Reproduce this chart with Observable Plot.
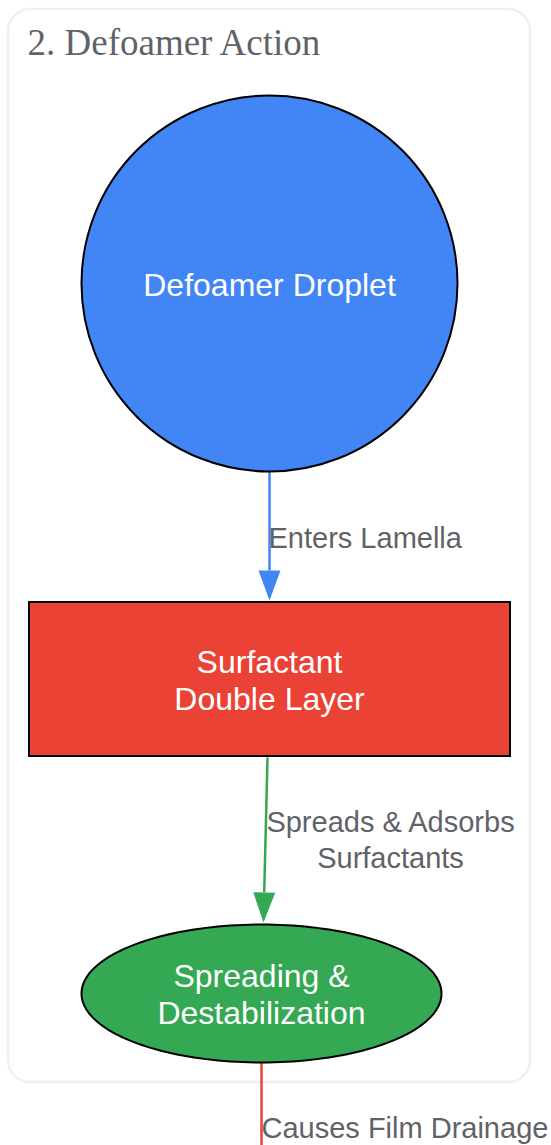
<!DOCTYPE html>
<html>
<head>
<meta charset="utf-8">
<script src="https://cdn.jsdelivr.net/npm/d3@7"></script>
<script src="https://cdn.jsdelivr.net/npm/@observablehq/plot@0.6"></script>
<style>
  html, body { margin: 0; padding: 0; background: white; }
</style>
</head>
<body>
<div id="chart"></div>
<script>
// ---- content ----
const clusterTitle = "2. Defoamer Action";
const nodeLabels = ["Defoamer Droplet", "Surfactant\nDouble Layer", "Spreading &\nDestabilization"];
const nodeColors = ["#4285f4", "#ea4335", "#34a853"];
const edgeLabels = ["Enters Lamella", "Spreads & Adsorbs\nSurfactants", "Causes Film Drainage"];
const edgeColors = ["#4285f4", "#34a853", "#ea4335"];

// ---- layout (pixels) ----
const circleNode = {cx: 269, cy: 283, r: 188};
const rectNode = {x1: 29, x2: 510, y1: 602, y2: 756};
const ellipseNode = {cx: 261, cy: 993, rx: 180, ry: 69};
const cluster = {x1: 8, x2: 530, y1: 9, y2: 1082};
const edgePaths = [
  {x1: 269, y1: 471, x2: 269, y2: 600, head: true},
  {x1: 267, y1: 757, x2: 263, y2: 922, head: true},
  {x1: 261, y1: 1062, x2: 261, y2: 1145, head: false}
];
const edgeLabelPos = [
  {x: 268, y: 536, anchor: "start"},
  {x: 390, y: 838, anchor: "middle"},
  {x: 261, y: 1126, anchor: "start"}
];
const nodeLabelPos = [
  {x: 269, y: 284},
  {x: 269, y: 679},
  {x: 261, y: 993}
];

// ---- derived geometry ----
const headLen = 30, headHalf = 11;
const edges = edgePaths.map((e, i) => {
  const dx = e.x2 - e.x1, dy = e.y2 - e.y1, L = Math.hypot(dx, dy);
  const ux = dx / L, uy = dy / L;
  const bx = e.head ? e.x2 - ux * headLen : e.x2;
  const by = e.head ? e.y2 - uy * headLen : e.y2;
  return {...e, bx, by, ux, uy, color: edgeColors[i], i};
});
const heads = edges.filter(e => e.head).flatMap(e => [
  {x: e.x2, y: e.y2, i: e.i, color: e.color},
  {x: e.bx - e.uy * headHalf, y: e.by + e.ux * headHalf, i: e.i, color: e.color},
  {x: e.bx + e.uy * headHalf, y: e.by - e.ux * headHalf, i: e.i, color: e.color},
  {x: e.x2, y: e.y2, i: e.i, color: e.color}
]);
const ellipsePts = d3.range(0, 361, 2).map(a => ({
  x: ellipseNode.cx + ellipseNode.rx * Math.cos(a * Math.PI / 180),
  y: ellipseNode.cy + ellipseNode.ry * Math.sin(a * Math.PI / 180)
}));

const labelData = edgeLabels.map((t, i) => ({text: t, ...edgeLabelPos[i]}));
const nodeTextData = nodeLabels.map((t, i) => ({text: t, ...nodeLabelPos[i]}));

const W = 551, H = 1145;
const sans = "'Liberation Sans', Arial, sans-serif";

const chart = Plot.plot({
  width: W, height: H,
  margin: 0,
  x: {domain: [0, W], range: [0, W], axis: null},
  y: {domain: [0, H], range: [0, H], axis: null},
  style: {fontFamily: sans, background: "white"},
  marks: [
    Plot.rect([cluster], {x1: "x1", x2: "x2", y1: "y1", y2: "y2", rx: 22, fill: "white", stroke: "#eef0f2", strokeWidth: 2.5}),
    Plot.text([clusterTitle], {x: 27, y: 43, text: d => d, textAnchor: "start", fontFamily: "'Liberation Serif', 'Times New Roman', serif", fontSize: 37, fill: "#5f6368"}),
    // edges
    Plot.link(edges, {x1: "x1", y1: "y1", x2: "bx", y2: "by", stroke: "color", strokeWidth: 2.5}),
    Plot.line(heads, {x: "x", y: "y", z: "i", fill: "color", stroke: "none", curve: "linear"}),
    // nodes
    Plot.dot([circleNode], {x: "cx", y: "cy", r: circleNode.r, fill: nodeColors[0], stroke: "black", strokeWidth: 2}),
    Plot.rect([rectNode], {x1: "x1", x2: "x2", y1: "y1", y2: "y2", fill: nodeColors[1], stroke: "black", strokeWidth: 2}),
    Plot.line(ellipsePts, {x: "x", y: "y", fill: nodeColors[2], stroke: "black", strokeWidth: 2}),
    // node labels
    Plot.text(nodeTextData, {x: "x", y: "y", text: "text", fill: "white", fontSize: 32, lineHeight: 1.17}),
    // edge labels
    Plot.text(labelData.filter(d => d.anchor === "start"), {x: "x", y: "y", text: "text", textAnchor: "start", fill: "#5f6368", fontSize: 29, lineHeight: 1.24}),
    Plot.text(labelData.filter(d => d.anchor === "middle"), {x: "x", y: "y", text: "text", textAnchor: "middle", fill: "#5f6368", fontSize: 29, lineHeight: 1.24})
  ]
});
document.getElementById("chart").appendChild(chart);
</script>
</body>
</html>
